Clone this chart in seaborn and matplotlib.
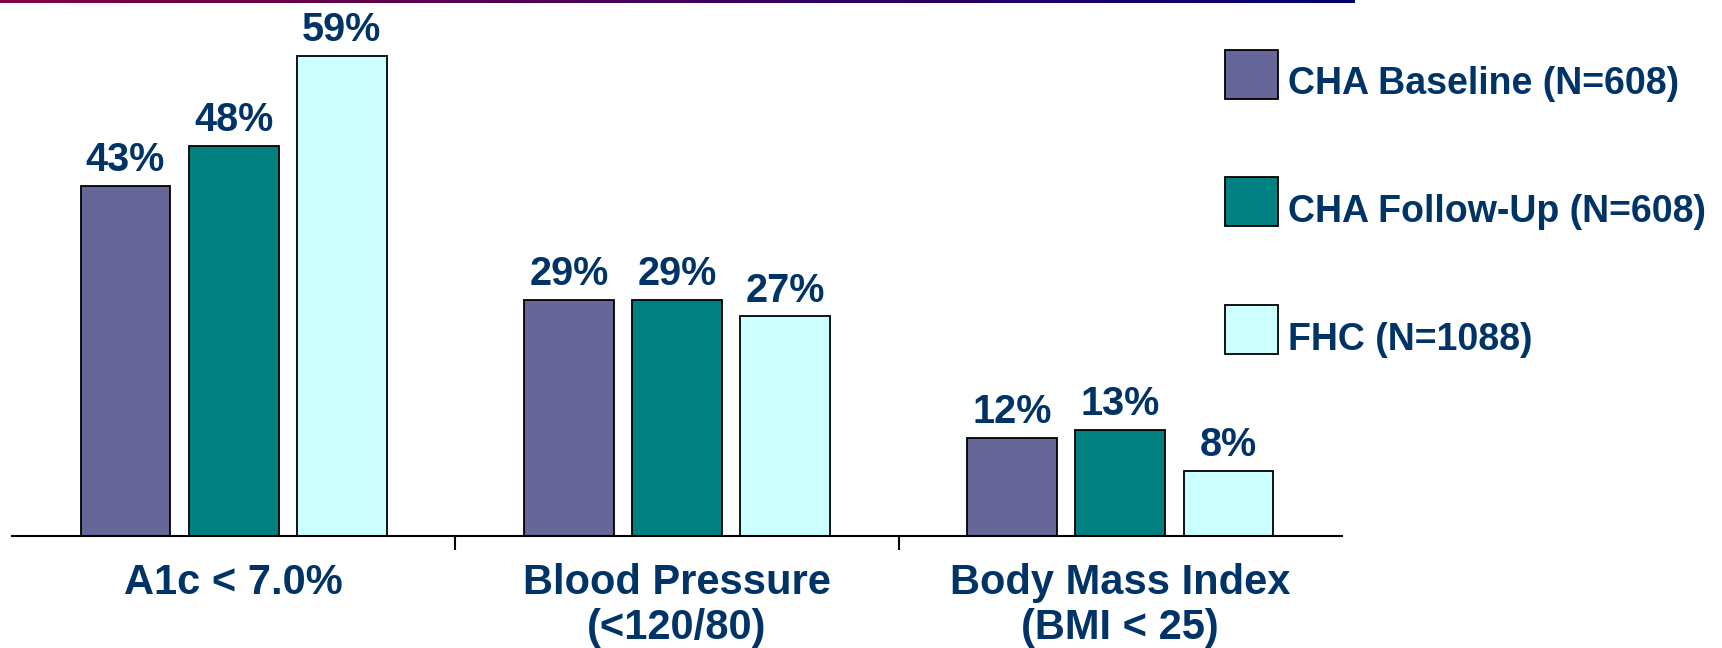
import numpy as np
import pandas as pd
import matplotlib.pyplot as plt
import seaborn as sns
from matplotlib.colors import LinearSegmentedColormap

categories = ['A1c < 7.0%', 'Blood Pressure\n(<120/80)', 'Body Mass Index\n(BMI < 25)']
series = ['CHA Baseline (N=608)', 'CHA Follow-Up (N=608)', 'FHC (N=1088)']
baseline = [43, 29, 12]
follow_up = [48, 29, 13]
fhc = [59, 27, 8]
colors = ['#666699', '#008080', '#CCFFFF']
navy = '#003366'

df = pd.DataFrame({
    'measure': categories * 3,
    'group': [s for s in series for _ in categories],
    'pct': baseline + follow_up + fhc,
})

sns.set_theme(style='white')
plt.rcParams['font.family'] = ['Liberation Sans', 'DejaVu Sans']
plt.rcParams['font.weight'] = 'bold'

fig = plt.figure(figsize=(17.22, 6.48), dpi=100)
ax = fig.add_axes([12 / 1722, 1 - 536 / 648, 1330 / 1722, 536 / 648])

sns.barplot(data=df, x='measure', y='pct', hue='group', order=categories,
            hue_order=series, palette=colors, width=0.732, gap=0.17,
            edgecolor='black', linewidth=1.3, saturation=1, ax=ax)

for cont in ax.containers:
    ax.bar_label(cont, fmt='%d%%', padding=5, fontsize=28.5, color=navy,
                 fontweight='bold')

ax.set_xlim(-0.5, 2.5)
ax.set_ylim(0, 536 / 8.13)
for s in ['top', 'left', 'right']:
    ax.spines[s].set_visible(False)
ax.spines['bottom'].set_color('black')
ax.spines['bottom'].set_linewidth(1.5)
ax.set_yticks([])
ax.set_xlabel('')
ax.set_ylabel('')
ax.set_xticks([0, 1, 2])
ax.set_xticklabels(categories, fontsize=30, color=navy, fontweight='bold',
                   linespacing=1.17)
ax.tick_params(axis='x', which='major', length=0, pad=19.5)
ax.set_xticks([0.5, 1.5], minor=True)
ax.tick_params(axis='x', which='minor', length=10, width=1.5, color='black',
               direction='out', bottom=True)

handles, labels = ax.get_legend_handles_labels()
leg = ax.legend(handles, labels, loc='upper left', bbox_to_anchor=(1206 / 1722, 1 - 31 / 648),
                bbox_transform=fig.transFigure, frameon=False, fontsize=27,
                handlelength=1.41, handleheight=1.63, labelspacing=2.1,
                handletextpad=0.27, borderpad=0, labelcolor=navy)
# labels sit a bit below the swatch centre in the original
for t in leg.get_texts():
    t.set_y(-8)

# gradient rule at the top of the slide
gax = fig.add_axes([0, 1 - 3 / 648, 1355 / 1722, 3 / 648])
cmap = LinearSegmentedColormap.from_list('rule', ['#800040', '#000070'])
gax.imshow(np.linspace(0, 1, 256)[None, :], aspect='auto', cmap=cmap)
gax.axis('off')

fig.savefig('out.png', dpi=100)
